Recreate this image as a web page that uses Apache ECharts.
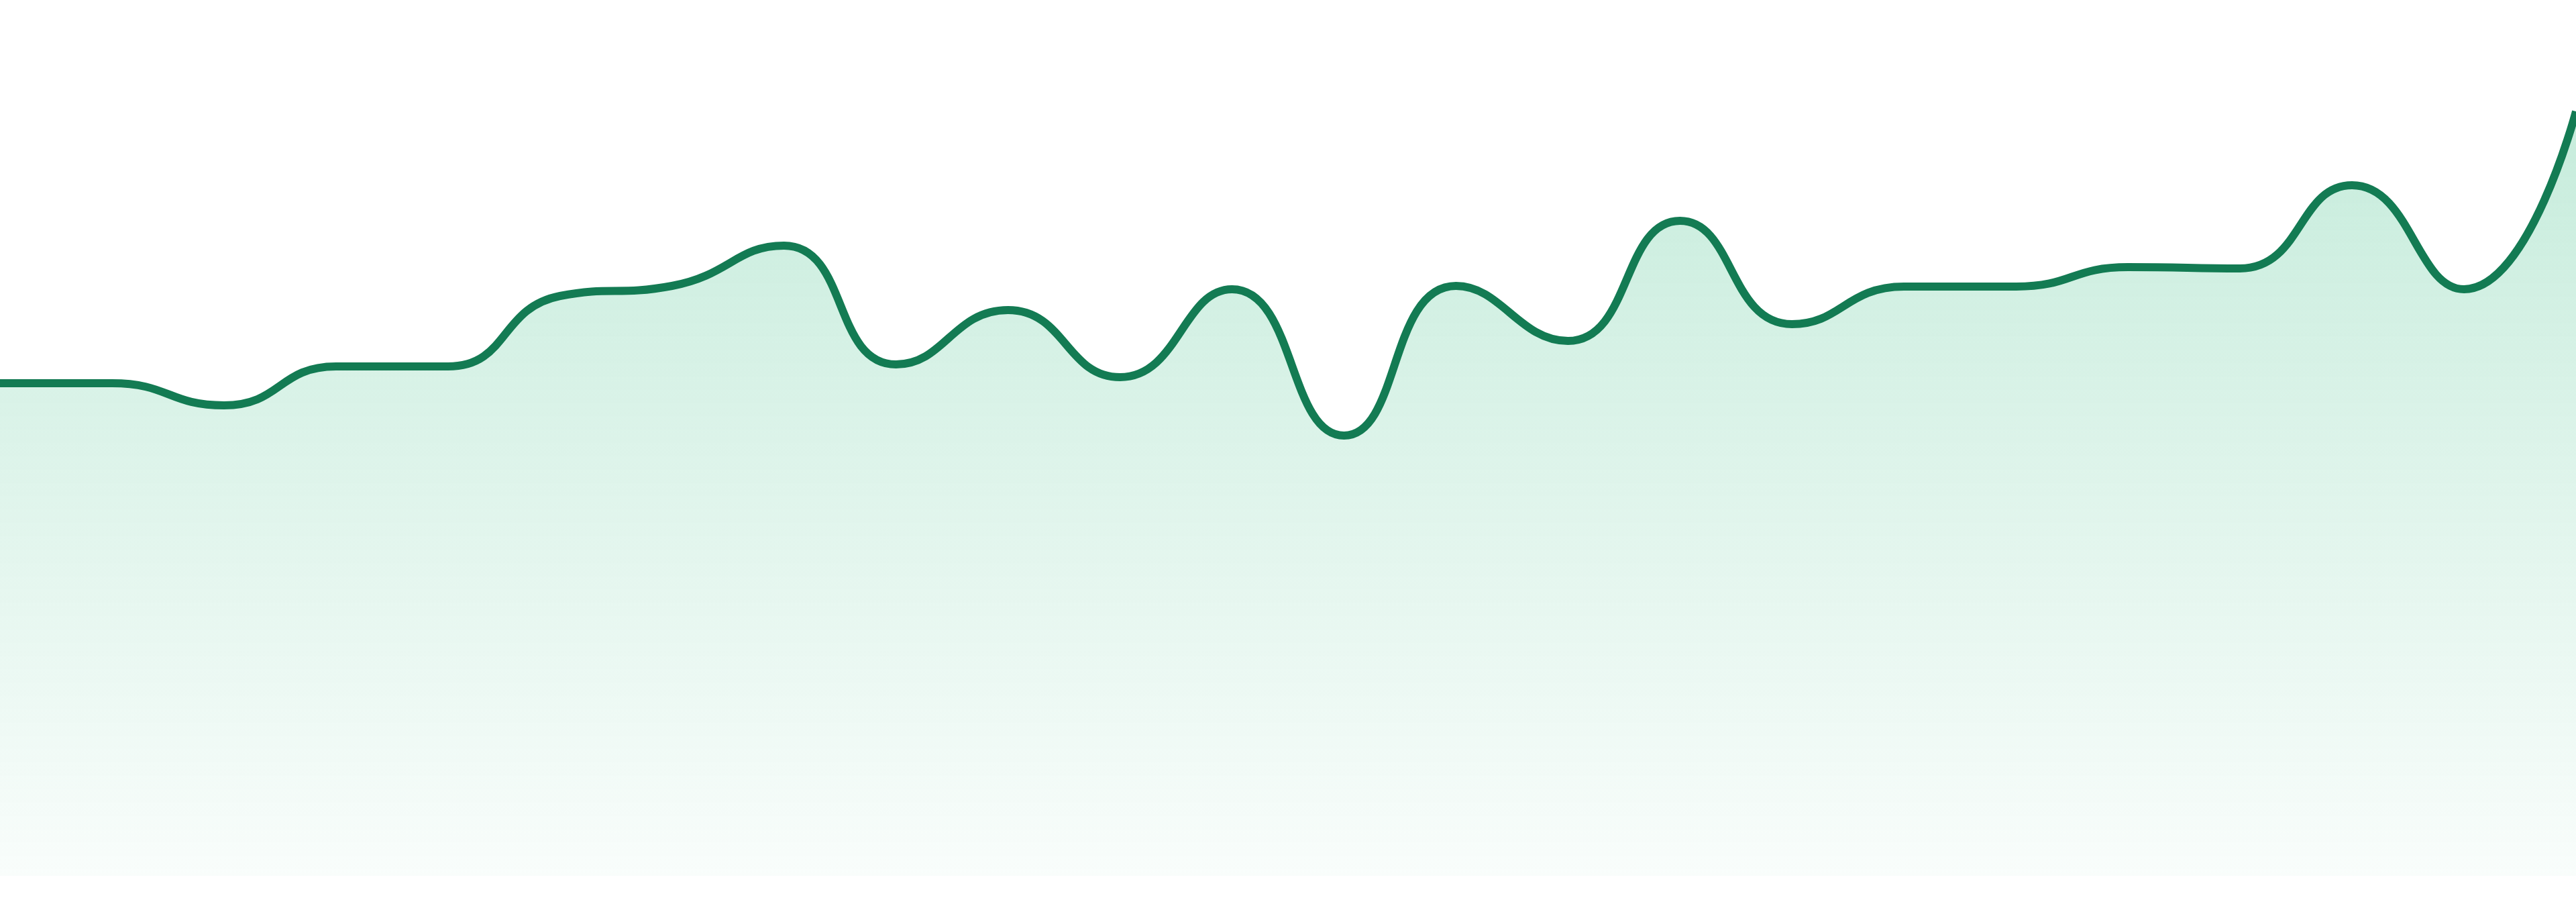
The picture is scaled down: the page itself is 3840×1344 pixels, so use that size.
<!DOCTYPE html>
<html>
<head>
<meta charset="utf-8">
<script src="https://cdn.jsdelivr.net/npm/echarts@6/dist/echarts.min.js"></script>
<style>
  html, body { margin: 0; padding: 0; background: #fff; }
  #chart { width: 3840px; height: 1344px; }
</style>
</head>
<body>
<div id="chart"></div>
<script>
// 数据
const categories = ["00:00", "01:00", "02:00", "03:00", "04:00", "05:00", "06:00", "07:00",
  "08:00", "09:00", "10:00", "11:00", "12:00", "13:00", "14:00", "15:00",
  "16:00", "17:00", "18:00", "19:00", "20:00", "21:00", "22:00", "23:00"];
const values = [73.4, 73.4, 70.1, 75.9, 75.9, 86.4, 87.9, 93.9,
  76.2, 84.3, 74.3, 87.4, 65.6, 87.9, 79.7, 97.6,
  82.2, 87.8, 87.8, 90.7, 90.5, 102.9, 87.4, 113.9];
const yMin = 0;
const yMax = 130.5;

const chart = echarts.init(document.getElementById("chart"));

chart.setOption({
  animation: false,
  grid: { left: 0, right: 0, top: 0, bottom: 39 },
  xAxis: {
    type: "category",
    data: categories,
    boundaryGap: false,
    show: false
  },
  yAxis: {
    type: "value",
    min: yMin,
    max: yMax,
    show: false
  },
  series: [{
    type: "line",
    data: values,
    smooth: true,
    showSymbol: false,
    lineStyle: { color: "#137b53", width: 12 },
    areaStyle: {
      color: new echarts.graphic.LinearGradient(0, 0, 0, 1, [
        { offset: 0, color: "rgba(30,180,115,0.36)" },
        { offset: 1, color: "rgba(30,180,115,0.04)" }
      ])
    }
  }]
});
</script>
</body>
</html>
